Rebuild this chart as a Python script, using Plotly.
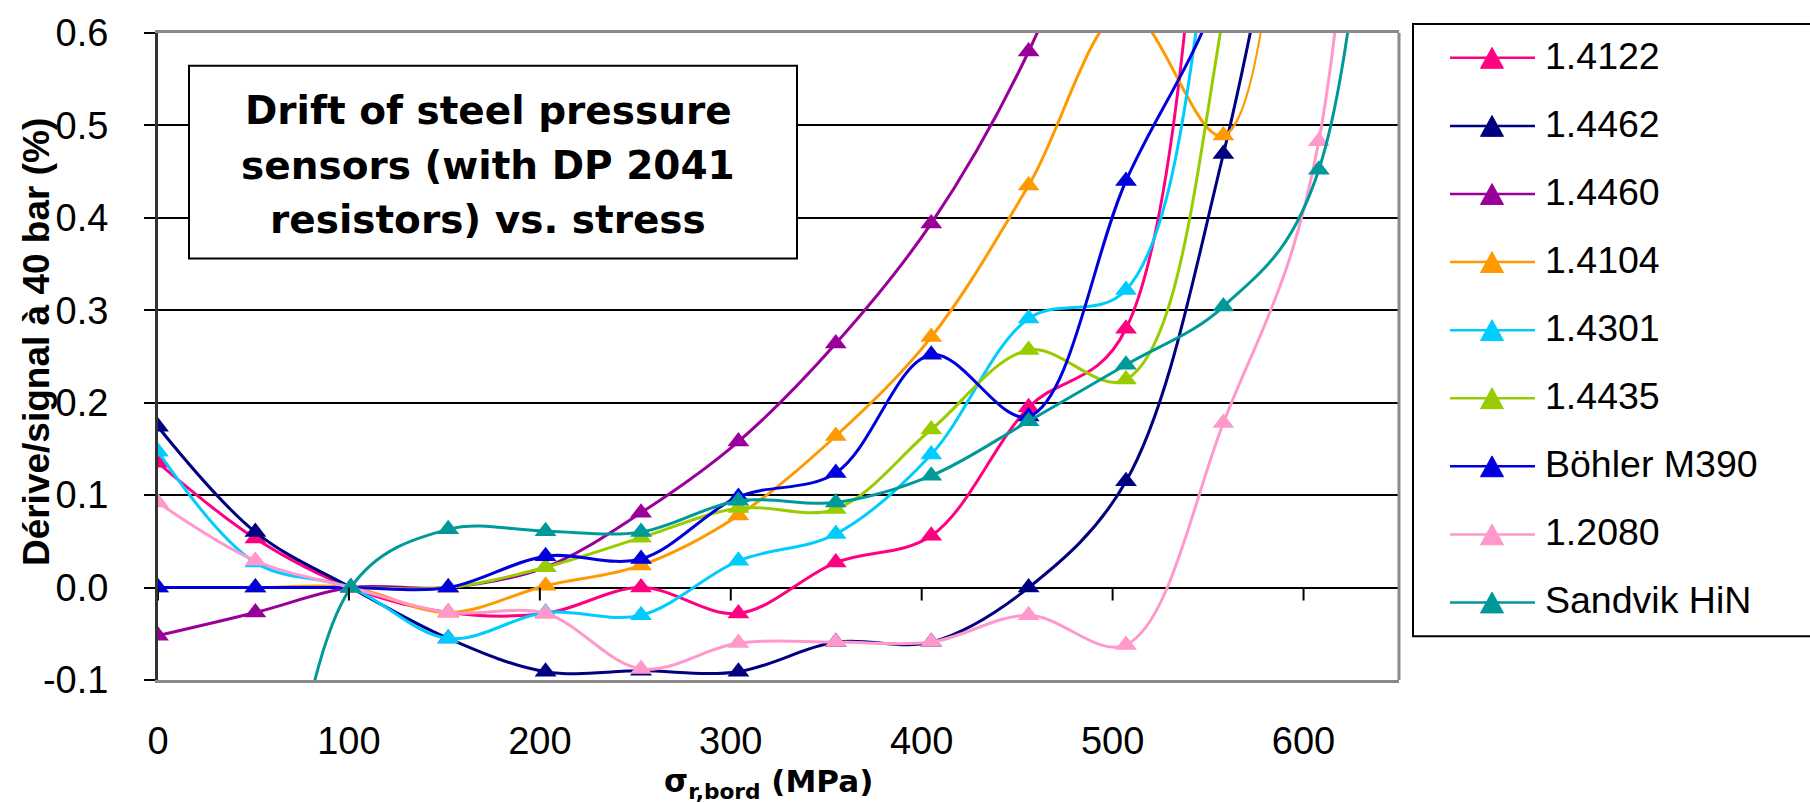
import plotly.graph_objects as go

# ---------------- data ----------------
x_stress = [0, 51, 101, 152, 203, 253, 304, 355, 405, 456, 507, 558, 608, 659]

series_names = ["1.4122", "1.4462", "1.4460", "1.4104", "1.4301", "1.4435",
                "Böhler M390", "1.2080", "Sandvik HiN"]
series_colors = ["#FF0080", "#000080", "#990099", "#FF9900", "#00CCFF",
                 "#99CC00", "#0000DD", "#FF99CC", "#009999"]

drift_14122 = [0.135, 0.053, 0.0, -0.027, -0.028, 0.0, -0.028, 0.027, 0.056, 0.195, 0.280, 4.0, None, None]
drift_14462 = [0.174, 0.060, 0.0, -0.055, -0.091, -0.090, -0.091, -0.059, -0.059, 0.0, 0.115, 0.469, 1.0, None]
drift_14460 = [-0.052, -0.027, 0.0, 0.0, 0.022, 0.081, 0.158, 0.264, 0.394, 0.580, 0.85, None, None, None]
drift_14104 = [0.0, 0.0, 0.0, -0.027, 0.002, 0.024, 0.078, 0.164, 0.271, 0.435, 0.625, 0.489, 3.0, None]
drift_14301 = [0.147, 0.027, 0.0, -0.055, -0.027, -0.030, 0.029, 0.058, 0.144, 0.291, 0.322, 0.80, 1.5, None]
drift_14435 = [0.0, 0.0, 0.0, 0.0, 0.022, 0.054, 0.086, 0.085, 0.171, 0.257, 0.225, 0.62, 2.0, None]
drift_m390 = [0.0, 0.0, 0.0, 0.0, 0.034, 0.031, 0.098, 0.124, 0.252, 0.185, 0.440, 0.66, 1.2, None]
drift_12080 = [0.092, 0.029, 0.0, -0.027, -0.028, -0.088, -0.060, -0.059, -0.059, -0.030, -0.062, 0.178, 0.483, 3.0]
drift_hin = [None, -0.55, 0.0, 0.063, 0.061, 0.060, 0.094, 0.092, 0.121, 0.180, 0.241, 0.304, 0.452, 4.5]

series_values = [drift_14122, drift_14462, drift_14460, drift_14104, drift_14301,
                 drift_14435, drift_m390, drift_12080, drift_hin]

x_ticks = [0, 100, 200, 300, 400, 500, 600]
y_ticks = [-0.1, 0.0, 0.1, 0.2, 0.3, 0.4, 0.5, 0.6]
y_tick_labels = ["-0.1", "0.0", "0.1", "0.2", "0.3", "0.4", "0.5", "0.6"]

title_lines = ["Drift of steel pressure", "sensors (with DP 2041", "resistors) vs. stress"]
y_title = "Dérive/signal à 40 bar (%)"
x_title = "σ<sub>r,bord</sub> (MPa)"

# ---------------- layout geometry (pixels) ----------------
W, H = 1810, 803
L, R, T, B = 158, 1399, 29, 680


def px_x(p):
    return (p - L) / (R - L)


def px_y(p):
    return (B - p) / (B - T)


ARIAL = "Arial, Liberation Sans, sans-serif"
WIDE = "DejaVu Sans, Verdana, sans-serif"

fig = go.Figure()
for name, col, vals in zip(series_names, series_colors, series_values):
    fig.add_trace(go.Scatter(
        x=x_stress, y=vals, name=name, mode="lines+markers",
        line=dict(color=col, width=3, shape="spline", smoothing=1),
        marker=dict(symbol="triangle-up", size=19, color=col),
        showlegend=False,
    ))

shapes = []
annotations = []

# x tick marks hanging from the zero line
for t in x_ticks:
    shapes.append(dict(type="line", xref="x", yref="y", x0=t, x1=t, y0=0, y1=-0.014,
                       line=dict(color="black", width=2), layer="above"))

# right border of plot area
shapes.append(dict(type="line", xref="paper", yref="paper", x0=1, x1=1, y0=0, y1=1,
                   line=dict(color="#8a8a8a", width=3), layer="above"))

# title box
shapes.append(dict(type="rect", xref="paper", yref="paper",
                   x0=px_x(189), x1=px_x(797), y0=px_y(256), y1=px_y(62),
                   line=dict(color="black", width=2), fillcolor="white", layer="above"))
title_centers = [107, 162, 217]
for txt, cy in zip(title_lines, title_centers):
    annotations.append(dict(text=txt, xref="paper", yref="paper", x=px_x(488), y=px_y(cy),
                            xanchor="center", yanchor="middle", showarrow=False,
                            font=dict(family=WIDE, size=39, color="black", weight="bold")))

# axis titles
annotations.append(dict(text=y_title, xref="paper", yref="paper", x=px_x(36), y=px_y(340),
                        xanchor="center", yanchor="middle", textangle=-90, showarrow=False,
                        font=dict(family=ARIAL, size=37, color="black", weight="bold")))
annotations.append(dict(text=x_title, xref="paper", yref="paper", x=px_x(768), y=px_y(784),
                        xanchor="center", yanchor="middle", showarrow=False,
                        font=dict(family=WIDE, size=31, color="black", weight="bold")))

# legend (drawn manually to match the long sample lines)
shapes.append(dict(type="rect", xref="paper", yref="paper",
                   x0=px_x(1413), x1=px_x(1830), y0=px_y(636), y1=px_y(20),
                   line=dict(color="black", width=2), fillcolor="white", layer="below"))
LEG_Y0, LEG_DY = 54, 68.5
for i, (name, col) in enumerate(zip(series_names, series_colors)):
    cy = LEG_Y0 + i * LEG_DY
    shapes.append(dict(type="line", xref="paper", yref="paper",
                       x0=px_x(1450), x1=px_x(1535), y0=px_y(cy), y1=px_y(cy),
                       line=dict(color=col, width=2.5), layer="above"))
    hw, hh = 11.5, 10.5
    path = "M {:.5f},{:.5f} L {:.5f},{:.5f} L {:.5f},{:.5f} Z".format(
        px_x(1492 - hw), px_y(cy + hh), px_x(1492 + hw), px_y(cy + hh), px_x(1492), px_y(cy - hh))
    shapes.append(dict(type="path", xref="paper", yref="paper", path=path,
                       fillcolor=col, line=dict(color=col, width=1), layer="above"))
    annotations.append(dict(text=name, xref="paper", yref="paper", x=px_x(1543), y=px_y(cy - 2),
                            xanchor="left", yanchor="middle", showarrow=False,
                            font=dict(family=ARIAL, size=37.5, color="black")))

fig.update_layout(
    width=W, height=H,
    margin=dict(l=L, r=W - R, t=T, b=H - B, pad=0),
    paper_bgcolor="white", plot_bgcolor="white",
    showlegend=False,
    shapes=shapes, annotations=annotations,
    xaxis=dict(range=[0, 650], tickvals=x_ticks, ticks="", showgrid=False, zeroline=False,
               showline=True, linecolor="#8a8a8a", linewidth=3, mirror=True,
               ticklabelstandoff=25,
               tickfont=dict(family=ARIAL, size=38, color="black")),
    yaxis=dict(range=[-0.1, 0.6], tickvals=y_ticks, ticktext=y_tick_labels,
               ticks="outside", ticklen=11, tickwidth=2, tickcolor="black",
               showgrid=True, gridcolor="black", gridwidth=2,
               zeroline=True, zerolinecolor="black", zerolinewidth=2,
               showline=True, linecolor="#333333", linewidth=3,
               ticklabelstandoff=28,
               tickfont=dict(family=ARIAL, size=38, color="black")),
)

fig.write_html("out.html", config={"displayModeBar": False},
               post_script="document.body.style.margin='0';")
